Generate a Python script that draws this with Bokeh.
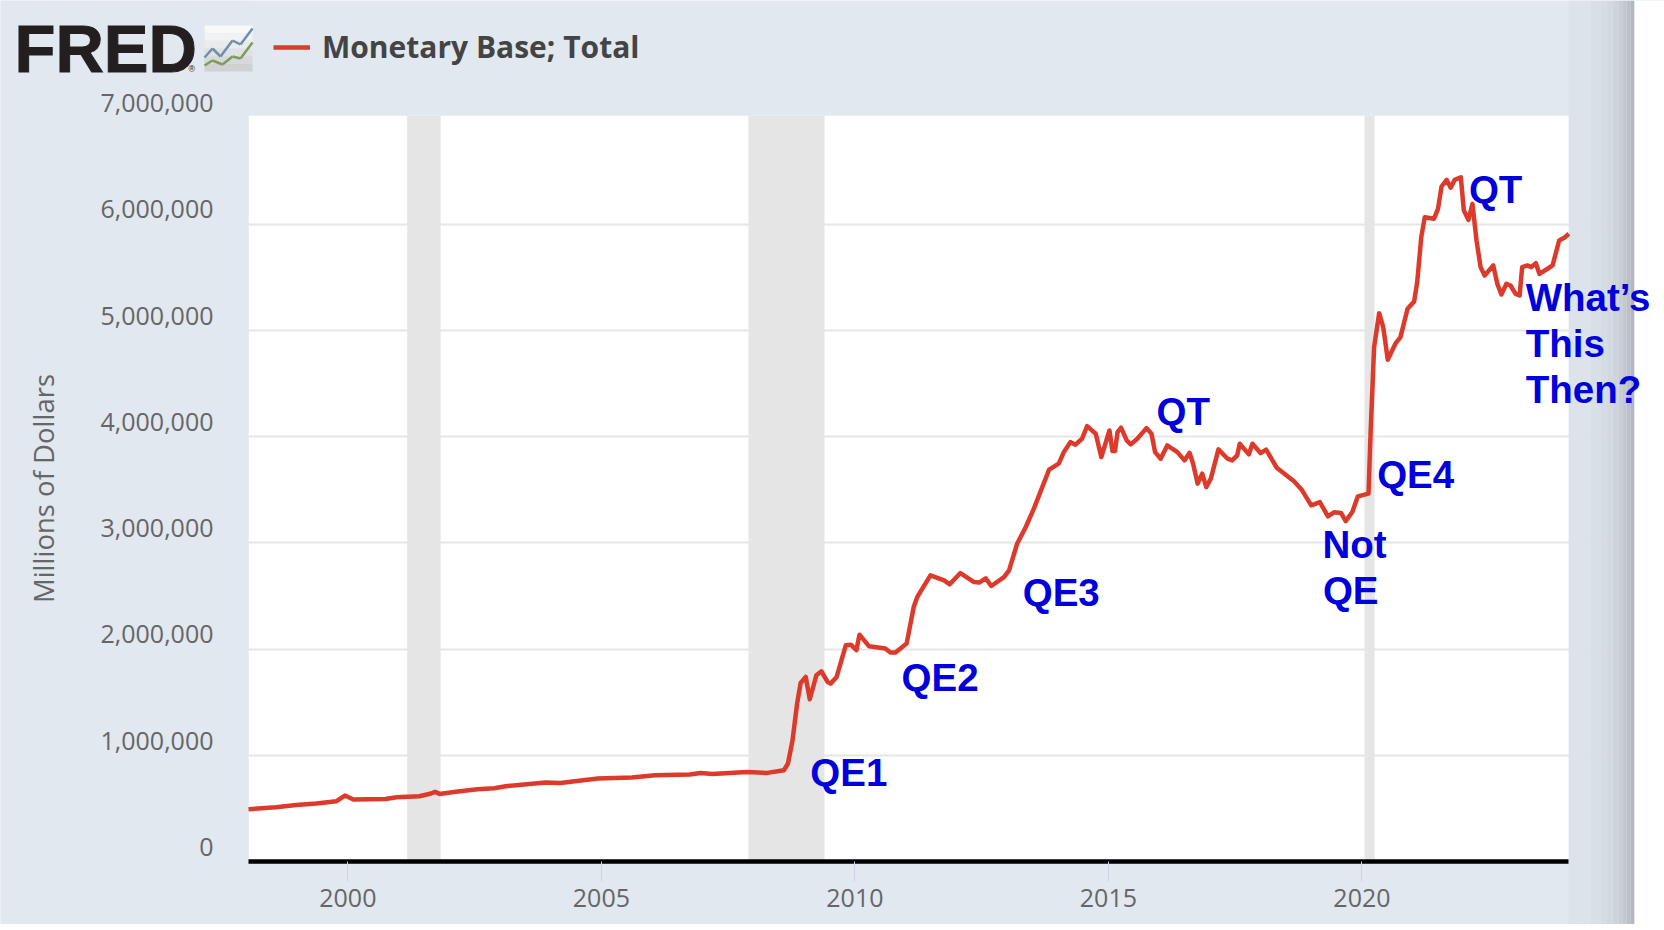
from bokeh.plotting import figure
from bokeh.embed import file_html
from bokeh.resources import INLINE
from bokeh.models import (Range1d, LinearAxis, FixedTicker, NumeralTickFormatter, Grid, Label,
                          BoxAnnotation, Legend, LegendItem, Arrow, ColumnDataSource)
import math

# ---- data ----
dates = [1998.04,1998.58,1998.98,1999.38,1999.77,1999.94,2000.11,2000.40,2000.74,2000.96,2001.41,2001.64,2001.72,2001.81,
 2002.09,2002.55,2002.89,2003.11,2003.90,2004.19,2004.93,2005.60,2006.06,2006.74,2006.96,2007.19,2007.87,2008.27,2008.60,
 2008.68,2008.77,2008.86,2008.93,2009.03,2009.11,2009.24,2009.34,2009.46,2009.52,2009.64,2009.82,2009.92,2010.03,2010.09,
 2010.28,2010.60,2010.70,2010.80,2011.02,2011.16,2011.23,2011.49,2011.76,2011.87,2012.08,2012.35,2012.45,2012.58,2012.69,
 2012.94,2013.04,2013.20,2013.37,2013.53,2013.83,2014.02,2014.12,2014.25,2014.35,2014.48,2014.58,2014.75,2014.86,2015.02,
 2015.08,2015.13,2015.18,2015.25,2015.36,2015.44,2015.57,2015.75,2015.85,2015.92,2016.03,2016.16,2016.36,2016.50,2016.60,
 2016.67,2016.76,2016.85,2016.93,2017.02,2017.17,2017.35,2017.44,2017.54,2017.59,2017.77,2017.84,2018.00,2018.11,2018.32,
 2018.66,2018.82,2019.00,2019.17,2019.33,2019.45,2019.59,2019.68,2019.81,2019.92,2020.13,2020.17,2020.24,2020.34,2020.42,
 2020.51,2020.66,2020.76,2020.90,2021.03,2021.09,2021.17,2021.24,2021.42,2021.50,2021.57,2021.67,2021.75,2021.83,2021.95,
 2022.01,2022.10,2022.18,2022.26,2022.34,2022.42,2022.59,2022.67,2022.75,2022.85,2022.93,2023.03,2023.11,2023.16,2023.26,
 2023.34,2023.43,2023.50,2023.66,2023.76,2023.89,2023.99,2024.08]
base = [492,511,532,546,567,621,583,586,589,605,614,640,655,636,
 655,680,690,708,743,739,781,790,812,818,833,824,843,834,859,
 922,1141,1486,1680,1737,1527,1753,1790,1690,1674,1737,2035,2041,1988,2135,
 2025,2004,1966,1966,2051,2395,2489,2693,2646,2609,2715,2630,2625,2665,2593,
 2677,2740,2991,3148,3321,3688,3744,3853,3947,3923,3979,4098,4026,3806,4057,
 3863,3863,4041,4083,3963,3926,3979,4079,4026,3853,3791,3916,3853,3775,3847,
 3744,3556,3650,3524,3603,3879,3791,3775,3822,3932,3832,3932,3844,3876,3706,
 3578,3493,3352,3383,3248,3286,3279,3204,3289,3437,3462,4026,4841,5161,5029,
 4722,4873,4935,5202,5271,5452,5876,6064,6049,6143,6353,6416,6341,6416,6440,
 6127,6039,6190,5845,5594,5515,5610,5437,5337,5437,5421,5343,5327,5594,5610,
 5594,5631,5531,5579,5610,5845,5870,5908]
base_musd = [v * 1000 for v in base]

rec_start = [2001.17, 2007.90, 2020.05]
rec_end = [2001.83, 2009.40, 2020.25]
y_ticks = [0, 1000000, 2000000, 3000000, 4000000, 5000000, 6000000, 7000000]
x_ticks = [2000, 2005, 2010, 2015, 2020]
series_name = "Monetary Base; Total"
y_title = "Millions of Dollars"
notes = [("QE1", 2009.12, 0.833e6), ("QE2", 2010.92, 1.736e6), ("QE3", 2013.31, 2.536e6),
         ("QT", 2015.95, 4.231e6), ("Not", 2019.22, 2.979e6), ("QE", 2019.23, 2.546e6),
         ("QE4", 2020.30, 3.638e6), ("QT", 2022.11, 6.329e6),
         ("What\u2019s", 2023.23, 5.304e6), ("This", 2023.23, 4.871e6), ("Then?", 2023.23, 4.438e6)]

# ---- layout: the frame fills the canvas; the plot area is a part of it ----
W, H = 1664, 924
L, R, B = 248, 1568.3, 861
X0, X1 = 1998.04, 2024.08
PXY = 106.25 / 1e6          # pixels per dollar million unit
PXX = (R - L) / (X1 - X0)   # pixels per year
TOP = 7.02e6
BG = "#e1e8ef"

def dx(px):
    return X0 + (px - L) / PXX
def dy(py):
    return (B - py) / PXY

p = figure(width=W, height=H, output_backend="svg", toolbar_location=None,
           x_range=Range1d(dx(0), dx(W)), y_range=Range1d(dy(H), dy(0)),
           x_axis_location=None, y_axis_location=None,
           min_border_left=0, min_border_right=0, min_border_top=0, min_border_bottom=0,
           background_fill_color=BG, border_fill_color=BG, outline_line_alpha=0,
           styles={"position": "absolute", "left": "0", "top": "0"})
p.grid.visible = False

# white plot area
p.quad(left=[X0], right=[X1], bottom=[0], top=[TOP], fill_color="white", line_alpha=0, level="underlay")

# grid
p.add_layout(Grid(dimension=1, ticker=FixedTicker(ticks=y_ticks[1:-1]), grid_line_color="#e6e6e6",
                  grid_line_width=2, level="underlay"))

def box(l, r, t, b, c, level="underlay"):
    p.add_layout(BoxAnnotation(left=dx(l), right=dx(r), top=dy(t), bottom=dy(b),
                               fill_color=c, fill_alpha=1, line_alpha=0, level=level))

# margins over the grid's ends, then the screenshot's right-hand shadow and the white strip beyond
box(0, L, 0, H, BG)
strips = [(1568.3, 1590, "#dde3eb"), (1590, 1600, "#d9dfe7"), (1600, 1606, "#d6dce4"), (1606, 1612, "#d3d9e1"),
          (1612, 1618, "#ced4dc"), (1618, 1622, "#c9ced6"), (1622, 1626, "#c3c8cf"), (1626, 1630, "#bcc1c7"),
          (1630, 1634, "#b3b7bd"), (1634, 1664, "#ffffff")]
for a, b, c in strips:
    box(a, b, 0, H, c)

# recessions
p.quad(left=rec_start, right=rec_end, bottom=0, top=TOP, fill_color="#e5e5e5", line_alpha=0)

# series
line = p.line(dates, base_musd, line_color="#dc3a2b", line_width=4.5, line_join="round")

# axes
xaxis = LinearAxis(ticker=FixedTicker(ticks=x_ticks), formatter=NumeralTickFormatter(format="0"),
                   fixed_location=0, bounds=(X0, X1),
                   axis_line_color="black", axis_line_width=4.5,
                   major_tick_line_color="#ccd6eb", major_tick_line_width=1, major_tick_in=0, major_tick_out=20,
                   minor_tick_line_color=None, major_label_standoff=7,
                   major_label_text_font="Open Sans", major_label_text_font_size="25px",
                   major_label_text_color="#666666")
p.add_layout(xaxis, "below")

SHIFT = 138000  # the chart's y labels sit above their grid lines
p.extra_y_ranges = {"labels": Range1d(dy(H) - SHIFT, dy(0) - SHIFT)}
yaxis = LinearAxis(y_range_name="labels", ticker=FixedTicker(ticks=y_ticks), fixed_location=X0,
                   formatter=NumeralTickFormatter(format="0,0"), axis_line_color=None,
                   major_tick_line_color=None, minor_tick_line_color=None, major_label_standoff=29,
                   major_label_text_font="Open Sans", major_label_text_font_size="25px",
                   major_label_text_color="#666666")
p.add_layout(yaxis, "left")

def label(text, px, py, size, color, style="normal", font="Liberation Sans", **kw):
    p.add_layout(Label(x=dx(px), y=dy(py), text=text, text_font=font,
                       text_font_style=style, text_font_size=size, text_color=color, text_baseline="middle",
                       level="overlay", **kw))

label(y_title, 43, 488, "27.5px", "#666666", font="Open Sans", angle=math.pi / 2, text_align="center")

# FRED logo
label("FRED", 14, 48, "67px", "#231f20", style="bold", text_outline_color="#231f20")
label("\u00ae", 188, 68, "9px", "#231f20")
for i, c in enumerate(["#f7f8f8", "#f1f2f3", "#e9ebec", "#dfe1e3", "#d6d8da", "#cfd1d3"]):
    box(204, 252, 25 + i * 46 / 6, 25 + (i + 1) * 46 / 6, c, level="annotation")
icon_blue = [(204, 57), (212, 48), (220, 56), (232, 40), (240, 44), (252, 28)]
icon_green = [(204, 65), (212, 60), (222, 64), (232, 56), (240, 58), (252, 42)]
for pts, c in [(icon_blue, "#6f8fae"), (icon_green, "#7d9c5c")]:
    src = ColumnDataSource(dict(x0=[dx(a[0]) for a in pts[:-1]], y0=[dy(a[1]) for a in pts[:-1]],
                                x1=[dx(a[0]) for a in pts[1:]], y1=[dy(a[1]) for a in pts[1:]]))
    p.add_layout(Arrow(end=None, source=src, x_start="x0", y_start="y0", x_end="x1", y_end="y1",
                       line_color=c, line_width=2.5, level="overlay"))

# legend
legend = Legend(items=[LegendItem(label=series_name, renderers=[line])], location=(273, H - 67),
                background_fill_alpha=0, border_line_alpha=0, glyph_width=37, glyph_height=10, label_standoff=12,
                label_text_font="Open Sans", label_text_font_style="bold", label_text_font_size="30px",
                label_text_color="#444444", margin=0, padding=0)
p.add_layout(legend, "center")

# annotations
for txt, x, y in notes:
    p.add_layout(Label(x=x, y=y, text=txt, text_font="Liberation Sans", text_font_style="bold",
                       text_font_size="38.5px", text_color="#0000dd", text_baseline="middle", level="overlay"))

open("out.html", "w").write(file_html(p, INLINE))
